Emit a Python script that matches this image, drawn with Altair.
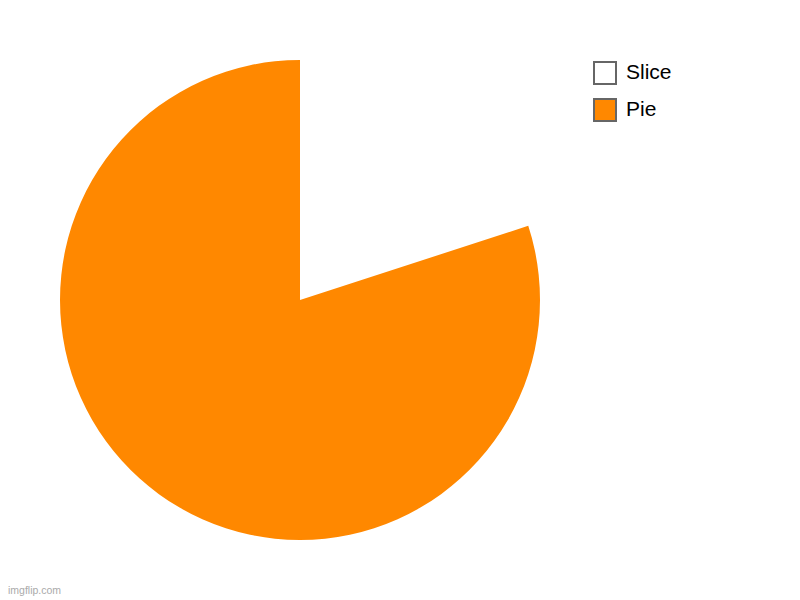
import altair as alt
import pandas as pd

categories = ["Slice", "Pie"]
values = [20, 80]
colors = ["#FFFFFF", "#FF8800"]

df = pd.DataFrame({"category": categories, "value": values, "order": [0, 1]})

pie = alt.Chart(df).mark_arc(stroke=None).encode(
    theta=alt.Theta("value:Q", stack=True),
    order=alt.Order("order:Q"),
    color=alt.Color(
        "category:N",
        scale=alt.Scale(domain=categories, range=colors),
        legend=alt.Legend(
            title=None,
            orient="none",
            legendX=585,
            legendY=53,
            symbolType="square",
            symbolSize=484,
            symbolStrokeColor="#666666",
            symbolStrokeWidth=2,
            labelFontSize=21,
            labelFont="Liberation Sans",
            labelColor="#000000",
            labelOffset=9,
            rowPadding=7,
        ),
    ),
    x=alt.value(292),
    y=alt.value(292),
    radius=alt.value(240),
)

wm = alt.Chart(pd.DataFrame({"t": ["imgflip.com"]})).mark_text(
    align="left", baseline="middle", fontSize=10.5, font="Liberation Sans", color="#aaaaaa"
).encode(text="t:N", x=alt.value(0), y=alt.value(583))

chart = alt.layer(pie, wm).properties(
    width=784, height=592, autosize=alt.AutoSizeParams(type="none"), padding=0
).configure_view(stroke=None)

chart.save("out.html", embed_options={"renderer": "svg", "actions": False})
